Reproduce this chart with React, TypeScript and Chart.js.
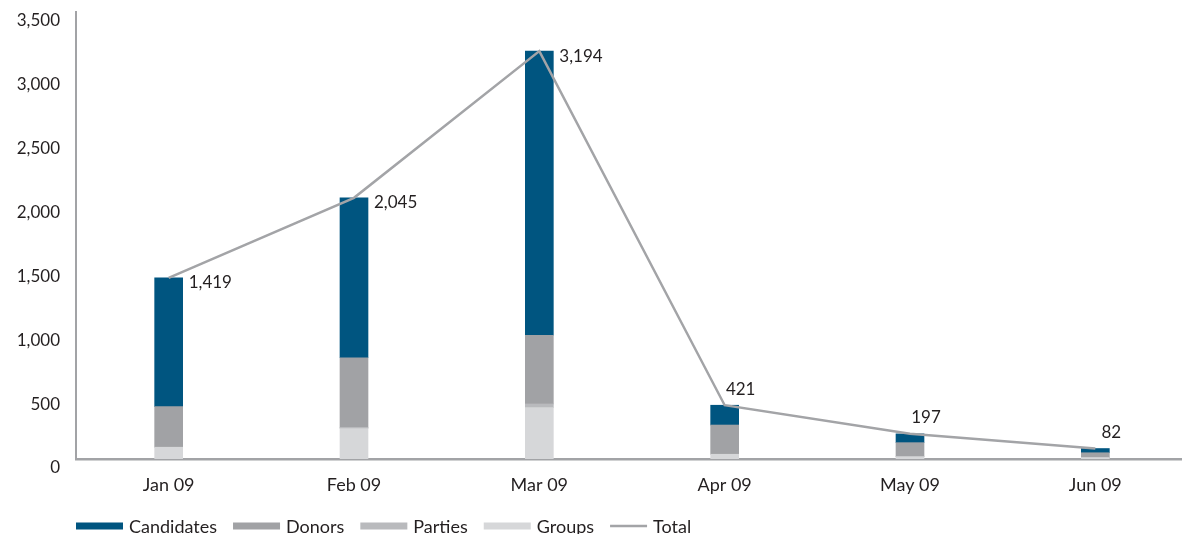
import React, { useEffect, useRef } from "react";
import { Chart, registerables } from "chart.js";

Chart.register(...registerables);

const categories = ["Jan 09", "Feb 09", "Mar 09", "Apr 09", "May 09", "Jun 09"];
const candidates = [1009, 1252, 2225, 155, 69, 33];
const donors = [318, 545, 538, 229, 110, 38];
const parties = [0, 10, 29, 0, 0, 0];
const groups = [92, 238, 402, 37, 18, 11];
const totals = [1419, 2045, 3194, 421, 197, 82];
const yTicks = [0, 500, 1000, 1500, 2000, 2500, 3000, 3500];

const FONT = "Lato, 'Open Sans', sans-serif";
const TEXT = "#231f20";
const AXIS = "#a2a3a6";
const COLORS = {
  candidates: "#005580",
  donors: "#a1a2a5",
  parties: "#b9babd",
  groups: "#d6d7d9",
  total: "#a3a4a7",
};

const fmt = (v: number) => v.toLocaleString("en-US");

const legendOrder = ["Candidates", "Donors", "Parties", "Groups", "Total"];

const legendPlugin = {
  id: "customLegend",
  afterDraw(chart: any) {
    const ctx = chart.ctx;
    ctx.save();
    ctx.font = `18px ${FONT}`;
    ctx.textBaseline = "middle";
    ctx.textAlign = "left";
    let x = chart.chartArea.left;
    const y = 526;
    legendOrder.forEach((label) => {
      const ds = chart.data.datasets.find((d: any) => d.label === label);
      if (!ds) return;
      if (ds.type === "line") {
        ctx.strokeStyle = ds.borderColor;
        ctx.lineWidth = 2.5;
        ctx.beginPath();
        ctx.moveTo(x, y);
        ctx.lineTo(x + 37, y);
        ctx.stroke();
        x += 43;
      } else {
        ctx.fillStyle = ds.backgroundColor;
        ctx.fillRect(x, y - 3.5, 47, 7);
        x += 53;
      }
      ctx.fillStyle = TEXT;
      ctx.fillText(label, x, y + 1);
      x += ctx.measureText(label).width + 16;
    });
    ctx.restore();
  },
};

const valueLabelPlugin = {
  id: "valueLabels",
  afterDatasetsDraw(chart: any) {
    const idx = chart.data.datasets.findIndex((d: any) => d.type === "line");
    if (idx < 0) return;
    const meta = chart.getDatasetMeta(idx);
    const ctx = chart.ctx;
    ctx.save();
    ctx.font = `17px ${FONT}`;
    ctx.fillStyle = TEXT;
    ctx.textBaseline = "middle";
    meta.data.forEach((pt: any, i: number) => {
      const v = totals[i];
      if (v >= 1000) {
        ctx.textAlign = "left";
        ctx.fillText(fmt(v), pt.x + 20, pt.y + 5);
      } else {
        ctx.textAlign = "center";
        ctx.fillText(fmt(v), pt.x + 16, pt.y - 16);
      }
    });
    ctx.restore();
  },
};

export default function App() {
  const ref = useRef<HTMLCanvasElement | null>(null);

  useEffect(() => {
    if (!ref.current) return;
    const chart = new Chart(ref.current, {
      type: "bar",
      data: {
        labels: categories,
        datasets: [
          { type: "line", label: "Total", data: totals, borderColor: COLORS.total, backgroundColor: COLORS.total, borderWidth: 2.5, pointRadius: 0, tension: 0, order: 0, stack: "total" } as any,
          { label: "Groups", data: groups, backgroundColor: COLORS.groups, barThickness: 28, order: 1, stack: "bars" },
          { label: "Parties", data: parties, backgroundColor: COLORS.parties, barThickness: 28, order: 1, stack: "bars" },
          { label: "Donors", data: donors, backgroundColor: COLORS.donors, barThickness: 28, order: 1, stack: "bars" },
          { label: "Candidates", data: candidates, backgroundColor: COLORS.candidates, barThickness: 28, order: 1, stack: "bars" },
        ],
      },
      options: {
        responsive: true,
        maintainAspectRatio: false,
        animation: false,
        layout: { padding: { top: 12, right: 4, bottom: 38, left: 0 } },
        plugins: {
          legend: { display: false },
          tooltip: { enabled: false },
        },
        scales: {
          x: {
            stacked: true,
            offset: true,
            afterFit: (scale: any) => {
              scale.height = 37;
              scale.paddingLeft = 0;
              scale.paddingRight = 0;
            },
            grid: { display: false, drawTicks: false },
            border: { display: true, color: AXIS, width: 2.5 },
            ticks: { color: TEXT, font: { family: FONT, size: 18 }, padding: 15, maxRotation: 0 },
          },
          y: {
            stacked: true,
            min: 0,
            max: 3500,
            afterBuildTicks: (scale: any) => {
              scale.ticks = yTicks.map((v) => ({ value: v }));
            },
            afterFit: (scale: any) => {
              scale.width = 76;
              scale.paddingTop = 0;
              scale.paddingBottom = 0;
            },
            grid: { display: false, drawTicks: false },
            border: { display: true, color: AXIS, width: 2 },
            ticks: {
              color: TEXT,
              font: { family: FONT, size: 17 },
              padding: 16,
              labelOffset: 9,
              callback: (v: any) => fmt(Number(v)),
            },
          },
        },
      },
      plugins: [valueLabelPlugin, legendPlugin],
    });
    return () => chart.destroy();
  }, []);

  return (
    <div style={{ position: "fixed", left: 0, top: 0, width: 1182, height: 534, overflow: "hidden", background: "#fff" }}>
      <div style={{ position: "relative", width: 1192, height: 534 }}>
        <canvas ref={ref} />
      </div>
    </div>
  );
}
